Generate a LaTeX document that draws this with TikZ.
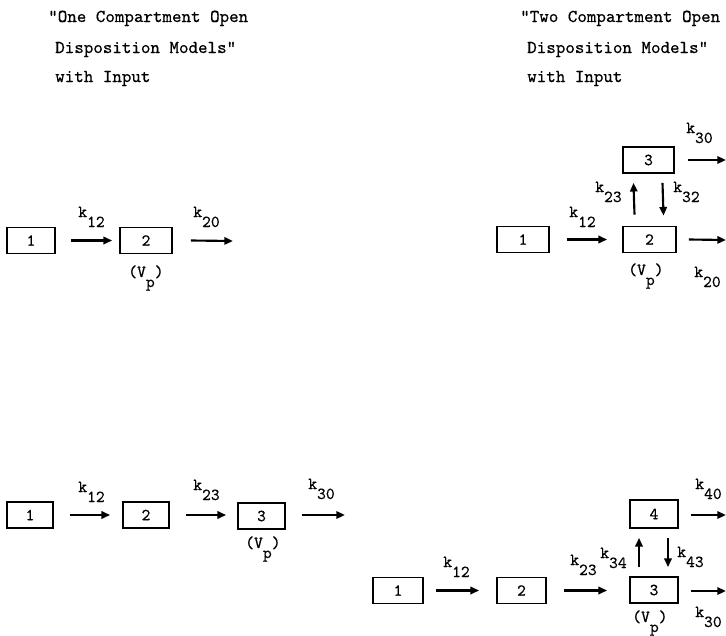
\documentclass[tikz,border=0pt]{standalone}
\usepackage{fontspec}
\newfontfamily\tw[FakeBold=0.5]{lmmono10-regular.otf}
\usetikzlibrary{arrows.meta,calc}
\newcommand{\ks}[1]{k\raisebox{-7.5pt}{#1}}
\newcommand{\vpar}{(V\raisebox{-7.5pt}{p})}
\begin{document}
\begin{tikzpicture}[x=0.75pt,y=-0.75pt,
  font=\tw\fontsize{12.6}{14}\selectfont,
  box/.style={draw, line width=1.3pt, inner sep=0pt, minimum height=19.5pt, minimum width=#1},
  box/.default=37.5pt,
  arr/.style={line width=1.6pt, -{Triangle[length=6.5pt,width=5.5pt]}},
  lbl/.style={inner sep=0pt, anchor=base west},
  head/.style={inner sep=0pt, anchor=base west, font=\tw\fontsize{13.6}{15}\selectfont}]
\fill[white] (0,0) rectangle (726,636);
\useasboundingbox (0,0) rectangle (726,636);

% headings
\node[head] (h1) at (48,22) {"One Compartment Open};
\node[head] (h2) at (55,53) {Disposition Models"};
\node[head] (h3) at (55,82) {with Input};
\node[head] (h4) at (520,22) {"Two Compartment Open};
\node[head] (h5) at (527,53) {Disposition Models"};
\node[head] (h6) at (527,82) {with Input};

% top left
\node[box=36pt] (a1) at (31,240.5) {1};
\node[box=39pt] (a2) at (146,240.5) {2};
\coordinate (a2o) at (233,241);
\draw[arr] ($(a1.east)+(15,0)$) -- ($(a2.west)+(-7,0)$);
\draw[arr] ($(a2.east)+(18,0)$) -- (a2o);
\node[lbl] (a12) at (78,217) {\ks{12}};
\node[lbl] (a20) at (193,217) {\ks{20}};
\node[lbl] (avp) at (128,277) {\vpar};

% top right
\node[box=39pt] (b1) at (523,239.5) {1};
\node[box=39.75pt] (b2) at (649.5,239.5) {2};
\node[box=38.25pt] (b3) at (648.5,160) {3};
\coordinate (b2o) at (726,240);
\coordinate (b3o) at (726,160);
\draw[arr] ($(b1.east)+(17,0)$) -- ($(b2.west)+(-15,0)$);
\draw[arr] ($(b2.east)+(12,0)$) -- (b2o);
\draw[arr] ($(b3.east)+(13,0)$) -- (b3o);
\draw[arr] ($(b2.north)+(-15,-11)$) -- ($(b3.south)+(-15,9)$);
\draw[arr] ($(b3.south)+(14,9)$) -- ($(b2.north)+(14,-10)$);
\node[lbl] (b12) at (569,217) {\ks{12}};
\node[lbl] (b23) at (595,192) {\ks{23}};
\node[lbl] (b32) at (673,192) {\ks{32}};
\node[lbl] (b20) at (694,277) {\ks{20}};
\node[lbl] (b30) at (686,133) {\ks{30}};
\node[lbl] (bvp) at (628,275) {\vpar};

% bottom left
\node[box=34.5pt] (c1) at (30,515) {1};
\node[box=34.5pt] (c2) at (146,515) {2};
\node[box=35.25pt] (c3) at (261.5,516) {3};
\coordinate (c3o) at (345,515);
\draw[arr] ($(c1.east)+(16,0)$) -- ($(c2.west)+(-12,0)$);
\draw[arr] ($(c2.east)+(16,0)$) -- ($(c3.west)+(-11,-1)$);
\draw[arr] ($(c3.east)+(16,-1)$) -- (c3o);
\node[lbl] (c12) at (78,492) {\ks{12}};
\node[lbl] (c23) at (193,490) {\ks{23}};
\node[lbl] (c30) at (308,489) {\ks{30}};
\node[lbl] (cvp) at (245,548) {\vpar};

% bottom right
\node[box=37.5pt] (d1) at (398,590.5) {1};
\node[box=36.75pt] (d2) at (521.5,590.5) {2};
\node[box=36pt] (d3) at (654,590) {3};
\node[box=36pt, minimum height=21pt] (d4) at (654,514) {4};
\coordinate (d3o) at (726,591);
\coordinate (d4o) at (726,515);
\draw[arr] ($(d1.east)+(12,0)$) -- ($(d2.west)+(-17,0)$);
\draw[arr] ($(d2.east)+(17,0)$) -- ($(d3.west)+(-22,0.5)$);
\draw[arr] ($(d3.north)+(-15,-9)$) -- ($(d4.south)+(-15,9)$);
\draw[arr] ($(d4.south)+(14,9)$) -- ($(d3.north)+(14,-9)$);
\draw[arr] ($(d4.east)+(12,1)$) -- (d4o);
\draw[arr] ($(d3.east)+(12,1)$) -- (d3o);
\node[lbl] (d12) at (443,567) {\ks{12}};
\node[lbl] (d23) at (570,565) {\ks{23}};
\node[lbl] (d34) at (600,558) {\ks{34}};
\node[lbl] (d43) at (677,557) {\ks{43}};
\node[lbl] (d40) at (695,489) {\ks{40}};
\node[lbl] (d30) at (695,617) {\ks{30}};
\node[lbl] (dvp) at (632,622) {\vpar};
\end{tikzpicture}
\end{document}
